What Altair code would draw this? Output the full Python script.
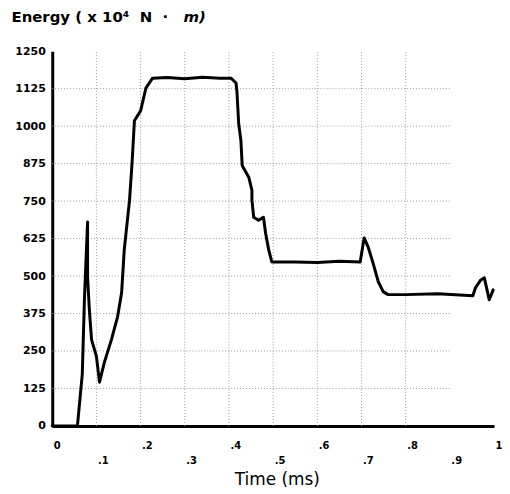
import altair as alt
import pandas as pd

# ---- data ----
time_ms = [0, 0.057, 0.068, 0.073, 0.080, 0.080, 0.084, 0.089, 0.100, 0.107,
           0.118, 0.134, 0.148, 0.157, 0.163, 0.175, 0.181, 0.186, 0.200, 0.212,
           0.227, 0.26, 0.30, 0.34, 0.38, 0.405, 0.416, 0.418, 0.422, 0.427,
           0.430, 0.445, 0.452, 0.452, 0.456, 0.467, 0.478, 0.483, 0.490, 0.497,
           0.55, 0.60, 0.65, 0.697, 0.706, 0.715, 0.726, 0.738, 0.749, 0.760,
           0.80, 0.873, 0.952, 0.958, 0.970, 0.978, 0.985, 0.989, 0.998]
energy = [0, 0, 172, 428, 680, 497, 388, 288, 232, 146,
          212, 288, 365, 444, 587, 753, 885, 1018, 1051, 1127,
          1160, 1162, 1158, 1163, 1160, 1160, 1144, 1117, 1008, 952,
          869, 829, 786, 753, 696, 686, 696, 643, 587, 547,
          547, 545, 549, 547, 627, 597, 544, 481, 448, 438,
          438, 441, 434, 461, 487, 494, 448, 421, 454]

x_tick_values = [0, 0.1, 0.2, 0.3, 0.4, 0.5, 0.6, 0.7, 0.8, 0.9, 1.0]
y_tick_values = [0, 125, 250, 375, 500, 625, 750, 875, 1000, 1125, 1250]
h_grid_values = [125, 250, 375, 500, 625, 750, 875, 1000, 1125]
v_grid_values = [0.1, 0.2, 0.3, 0.4, 0.5, 0.6, 0.7, 0.8]
h_grid_end = 0.9
v_grid_end = 1250

title_main = "Energy ( x 10\u2074\u00a0\u00a0N\u00a0\u00a0\u00b7"
title_unit = "m)"
x_title = "Time (ms)"

xs = alt.Scale(domain=[0, 1], nice=False, zero=False)
ys = alt.Scale(domain=[0, 1250], nice=False)

df = pd.DataFrame({"i": list(range(len(time_ms))), "t": time_ms, "e": energy})
hdf = pd.DataFrame({"y": h_grid_values, "x0": [0.0] * len(h_grid_values),
                    "x1": [h_grid_end] * len(h_grid_values)})
vdf = pd.DataFrame({"x": v_grid_values, "y0": [0] * len(v_grid_values),
                    "y1": [v_grid_end] * len(v_grid_values)})

x_axis = alt.Axis(
    values=x_tick_values,
    labelExpr="datum.value == 0 ? '0' : (datum.value == 1 ? '1' : '.' + round(datum.value * 10))",
    grid=False, ticks=False, tickSize=0,
    domainColor="black", domainWidth=3,
    labelAlign="left", labelBaseline="top", labelOffset=1,
    labelPadding={"condition": {"test": "round(datum.value * 10) % 2 == 1", "value": 30}, "value": 15},
    labelFont="DejaVu Sans", labelFontSize=10, labelFontWeight="bold", labelColor="black",
    labelOverlap=False, labelFlush=False,
    title=x_title, titleFont="DejaVu Sans", titleFontSize=17, titleFontWeight="normal",
    titleColor="black", titleX=226, titleY=59, titleBaseline="alphabetic", titleAlign="center",
)
y_axis = alt.Axis(
    values=y_tick_values, format="d", grid=False, ticks=False, tickSize=0,
    domainColor="black", domainWidth=3,
    labelPadding=7, labelFont="DejaVu Sans", labelFontSize=11, labelFontWeight="bold",
    labelColor="black", labelFlush=False, labelOverlap=False, title=None,
)

grid_style = dict(color="#9a9a9a", strokeDash=[1, 2], strokeWidth=1)

hgrid = alt.Chart(hdf).mark_rule(**grid_style).encode(
    x=alt.X("x0:Q", scale=xs, axis=x_axis),
    x2="x1:Q",
    y=alt.Y("y:Q", scale=ys, axis=y_axis),
)
vgrid = alt.Chart(vdf).mark_rule(**grid_style).encode(
    x=alt.X("x:Q", scale=xs, axis=x_axis),
    y=alt.Y("y0:Q", scale=ys, axis=y_axis),
    y2="y1:Q",
)

line = alt.Chart(df).mark_line(color="black", strokeWidth=3, strokeJoin="round", strokeCap="round").encode(
    x=alt.X("t:Q", scale=xs, axis=x_axis),
    y=alt.Y("e:Q", scale=ys, axis=y_axis),
    order=alt.Order("i:Q"),
)

t1 = alt.Chart(pd.DataFrame({"s": [title_main]})).mark_text(
    align="left", baseline="alphabetic", font="DejaVu Sans", fontSize=15, fontWeight="bold", color="black"
).encode(text="s:N", x=alt.value(-41), y=alt.value(-29))
t2 = alt.Chart(pd.DataFrame({"s": [title_unit]})).mark_text(
    align="left", baseline="alphabetic", font="DejaVu Sans", fontSize=15, fontWeight="bold",
    fontStyle="italic", color="black"
).encode(text="s:N", x=alt.value(132), y=alt.value(-29))

chart = alt.layer(hgrid, vgrid, line, t1, t2).properties(
    width=444.5, height=377,
    autosize=alt.AutoSizeParams(type="none"),
    padding={"left": 44.5, "top": 42, "right": 8, "bottom": 65},
    background="white",
).configure_view(stroke=None)

chart.save("out.html", embed_options={"renderer": "svg", "actions": False})
